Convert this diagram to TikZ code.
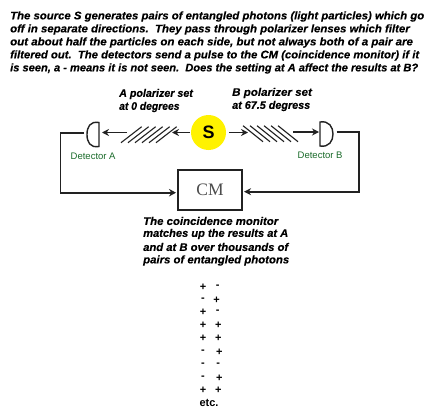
\documentclass[tikz,border=0pt]{standalone}
\usepackage{fontspec}
\usepackage{graphicx}
\setmainfont{Liberation Sans}
\newfontfamily\cmfont{Liberation Serif}
\newfontfamily\notefont[BoldItalicFeatures={FakeBold=0.35}]{Liberation Sans}
\usetikzlibrary{arrows.meta}
\definecolor{wire}{HTML}{222222}
\definecolor{detgreen}{HTML}{1A6B2A}
\newcommand{\fit}[2]{\resizebox{#1pt}{\height}{#2}}
\tikzset{
  note/.style={anchor=west,inner sep=0pt,font=\notefont\fontsize{11}{13}\selectfont\bfseries\itshape,text=black},
  detlabel/.style={inner sep=0pt,font=\fontsize{9.5}{10}\selectfont,text=detgreen},
  sign/.style={inner sep=0pt,font=\fontsize{11}{11}\selectfont\bfseries,text=black},
  thinwire/.style={draw=wire,line width=1.6pt},
  thickwire/.style={draw=wire,line width=2.2pt},
  beam/.style={draw=wire,line width=1.4pt,-{Stealth[length=7pt,width=7pt]}},
  hatch/.style={draw=wire,line width=1.1pt},
  detbody/.style={draw=wire,line width=1.4pt},
}
\begin{document}
\begin{tikzpicture}[x=1pt,y=-1pt]
\useasboundingbox (0,0) rectangle (438,417);
\fill[white] (0,0) rectangle (438,417);
% heading
\node[note] (t1) at (10,16.5) {\fit{414}{The source S generates pairs of entangled photons (light particles) which go}};
\node[note] (t2) at (10,29.5) {\fit{399.5}{off in separate directions.\ \ They pass through polarizer lenses which filter}};
\node[note] (t3) at (10,42.5) {\fit{402.7}{out about half the particles on each side, but not always both of a pair are}};
\node[note] (t4) at (10,55.5) {\fit{409}{filtered out.\ \ The detectors send a pulse to the CM (coincidence monitor) if it}};
\node[note] (t5) at (10,68.5) {\fit{408}{is seen, a - means it is not seen.\ \ Does the setting at A affect the results at B?}};
% polarizer labels
\node[note] (pa1) at (119,94) {\fit{73.7}{A polarizer set}};
\node[note] (pa2) at (119,107) {\fit{60.3}{at 0 degrees}};
\node[note] (pb1) at (232,93) {\fit{79.7}{B polarizer set}};
\node[note] (pb2) at (232,106) {\fit{78}{at 67.5 degress}};
% source
\node[circle,fill=yellow,minimum size=35pt,inner sep=0pt,font=\fontsize{18}{18}\selectfont\bfseries] (S) at (208.5,132.5) {S};
% detectors
\coordinate (da) at (99,122.5);
\coordinate (db) at (320,122);
\draw[detbody] (da) .. controls (90,121) and (87,127) .. (87,134.5) .. controls (87,142) and (90,148) .. (99,146.5) -- cycle;
\draw[detbody] (db) .. controls (329,120.5) and (333,127) .. (333,134) .. controls (333,141) and (329,147.5) .. (320,146) -- cycle;
\coordinate (daw) at (84,133);
\coordinate (dbw) at (336.5,132);
\node[detlabel,anchor=west] (la) at (70.5,156) {Detector A};
\node[detlabel,anchor=west] (lb) at (297.5,155) {Detector B};
% hatches
\foreach \i in {0,...,5}{
  \draw[hatch] (121+\i*7,142.7) -- (141.7+\i*7,126.7);
}
\foreach \i in {0,...,5}{
  \draw[hatch] (243+\i*7,125.7) -- (263+\i*7,141.7);
}
% beams
\coordinate (ba0) at (127,132.5);
\coordinate (ba1) at (102,132.5);
\coordinate (sa1) at (172,132.5);
\coordinate (sb1) at (248,132.5);
\coordinate (bb0) at (293,132);
\coordinate (bb1) at (319,132);
\draw[beam] (ba0) -- (ba1);
\draw[beam] (S) ++(-18.5,0) -- (sa1);
\draw[beam] (S) ++(20.5,0) -- (sb1);
\draw[beam] (bb0) -- (bb1);
% CM
\node[draw=wire,line width=1.5pt,minimum width=64pt,minimum height=40pt,inner sep=0pt,font=\cmfont\fontsize{17.5}{17.5}\selectfont,text=black!70] (CM) at (210,190) {CM};
% wires to CM
\coordinate (wa) at (60.5,133);
\coordinate (wb) at (359,132);
\draw[thinwire,-{Stealth[length=7pt,width=7.5pt]}] (daw) -- (wa) |- (176,192.7);
\draw[thickwire,-{Stealth[length=7pt,width=7pt]}] (dbw) -- (wb) |- (244,191.7);
% coincidence text
\node[note] (c1) at (143,221) {\fit{135}{The coincidence monitor}};
\node[note] (c2) at (143,234) {\fit{145}{matches up the results at A}};
\node[note] (c3) at (143,247) {\fit{145}{and at B over thousands of}};
\node[note] (c4) at (143,260.5) {\fit{146}{pairs of entangled photons}};
% signs
\foreach \y/\a/\b/\bx [count=\n] in {
  287/+/-/217.7, 300/-/+/216.7, 312/+/-/217.7, 325/+/+/218.3, 338/+/+/218.3,
  352/-/+/219.3, 365/-/-/218.3, 378/-/+/219.3, 390/+/+/218.3}{
  \node[sign] (l\n) at (203,\y) {\a};
  \node[sign] (r\n) at (\bx,\y) {\b};
}
\node[inner sep=0pt,font=\fontsize{11}{13}\selectfont\bfseries] (etc) at (209,403) {etc.};
\end{tikzpicture}
\end{document}
